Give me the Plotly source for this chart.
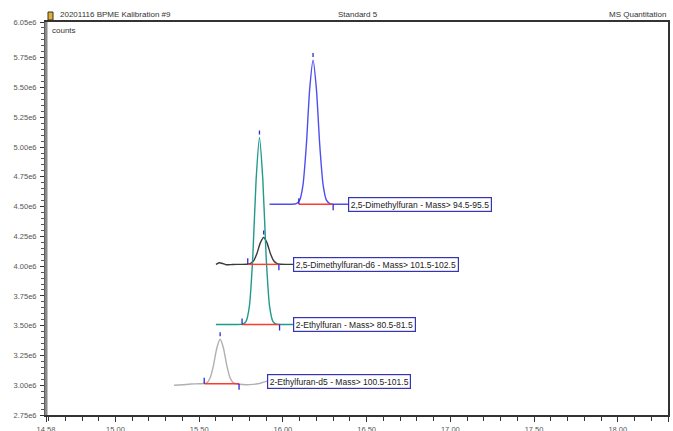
import plotly.graph_objects as go

# Retention time (min) and abundance (counts) for each extracted-ion chromatogram
dmf_time = [15.92, 16.00, 16.05, 16.08, 16.10, 16.12, 16.14, 16.16, 16.18, 16.20, 16.22, 16.24, 16.26, 16.28, 16.30, 16.34, 16.39]
dmf_counts = [4.52e6, 4.52e6, 4.52e6, 4.525e6, 4.554e6, 4.683e6, 5.017e6, 5.488e6, 5.73e6, 5.488e6, 5.017e6, 4.683e6, 4.554e6, 4.525e6, 4.52e6, 4.52e6, 4.52e6]

dmf_d6_time = [15.60, 15.62, 15.64, 15.66, 15.70, 15.75, 15.785, 15.805, 15.825, 15.845, 15.865, 15.885, 15.905, 15.925, 15.945, 15.965, 15.985, 16.02, 16.06]
dmf_d6_counts = [4.015e6, 4.028e6, 4.022e6, 4.012e6, 4.014e6, 4.015e6, 4.016e6, 4.021e6, 4.045e6, 4.107e6, 4.195e6, 4.24e6, 4.195e6, 4.107e6, 4.045e6, 4.021e6, 4.016e6, 4.015e6, 4.015e6]

ef_time = [15.60, 15.66, 15.72, 15.76, 15.78, 15.80, 15.82, 15.84, 15.86, 15.88, 15.90, 15.92, 15.94, 15.96, 16.00, 16.06]
ef_counts = [3.51e6, 3.51e6, 3.51e6, 3.513e6, 3.537e6, 3.667e6, 4.075e6, 4.727e6, 5.08e6, 4.727e6, 4.075e6, 3.667e6, 3.537e6, 3.513e6, 3.51e6, 3.51e6]

ef_d5_time = [15.35, 15.40, 15.45, 15.50, 15.525, 15.545, 15.565, 15.585, 15.605, 15.625, 15.645, 15.665, 15.685, 15.705, 15.74, 15.80, 15.85, 15.905]
ef_d5_counts = [3.0e6, 3.004e6, 3.01e6, 3.012e6, 3.015e6, 3.02e6, 3.061e6, 3.165e6, 3.311e6, 3.386e6, 3.311e6, 3.165e6, 3.061e6, 3.02e6, 3.008e6, 3.005e6, 3.012e6, 3.035e6]

compound_names = [
    "2,5-Dimethylfuran - Mass> 94.5-95.5",
    "2,5-Dimethylfuran-d6 - Mass> 101.5-102.5",
    "2-Ethylfuran - Mass> 80.5-81.5",
    "2-Ethylfuran-d5 - Mass> 100.5-101.5",
]
# Integration windows (start, end) and baseline level per compound
integ_start = [16.095, 15.79, 15.756, 15.53]
integ_end = [16.30, 15.976, 15.98, 15.738]
integ_level = [4.52e6, 4.015e6, 3.51e6, 3.012e6]
apex_time = [16.18, 15.885, 15.86, 15.625]
apex_counts = [5.73e6, 4.24e6, 5.08e6, 3.386e6]

# Axis ticks
x_tick_vals = [14.585, 15.00, 15.50, 16.00, 16.50, 17.00, 17.50, 18.00, 18.30]
x_tick_text = ["14.58", "15.00", "15.50", "16.00", "16.50", "17.00", "17.50", "18.00", "18.30"]
y_tick_vals = [2.75e6, 3.00e6, 3.25e6, 3.50e6, 3.75e6, 4.00e6, 4.25e6, 4.50e6, 4.75e6, 5.00e6, 5.25e6, 5.50e6, 5.75e6, 6.05e6]
y_tick_text = ["2.75e6", "3.00e6", "3.25e6", "3.50e6", "3.75e6", "4.00e6", "4.25e6", "4.50e6", "4.75e6", "5.00e6", "5.25e6", "5.50e6", "5.75e6", "6.05e6"]

series = [
    (dmf_time, dmf_counts, "#4f4ff0"),
    (dmf_d6_time, dmf_d6_counts, "#3a3a3a"),
    (ef_time, ef_counts, "#1f9a8c"),
    (ef_d5_time, ef_d5_counts, "#b0b0b0"),
]

FONT = "Liberation Sans, Arial, sans-serif"
fig = go.Figure()

for (t, c, col), name in zip(series, compound_names):
    fig.add_trace(go.Scatter(x=t, y=c, mode="lines", name=name,
                             line=dict(color=col, width=1.4, shape="spline", smoothing=0.6),
                             hoverinfo="skip", showlegend=False))

shapes = []
annotations = []
for i, name in enumerate(compound_names):
    t = series[i][0]
    # integration baseline
    fig.add_trace(go.Scatter(x=[integ_start[i], integ_end[i]], y=[integ_level[i], integ_level[i]],
                             mode="lines", line=dict(color="#ff3b2f", width=1.4),
                             hoverinfo="skip", showlegend=False))
    # start / end / apex markers
    shapes.append(dict(type="line", xref="x", yref="y", x0=integ_start[i], x1=integ_start[i],
                       ysizemode="pixel", yanchor=integ_level[i], y0=0, y1=6,
                       line=dict(color="#2b2bd0", width=1.3)))
    shapes.append(dict(type="line", xref="x", yref="y", x0=integ_end[i], x1=integ_end[i],
                       ysizemode="pixel", yanchor=integ_level[i], y0=0, y1=-6,
                       line=dict(color="#2b2bd0", width=1.3)))
    shapes.append(dict(type="line", xref="x", yref="y", x0=apex_time[i], x1=apex_time[i],
                       ysizemode="pixel", yanchor=apex_counts[i], y0=3, y1=7,
                       line=dict(color="#2b2bd0", width=1.3)))
    # compound label at the end of the trace
    annotations.append(dict(x=t[-1], y=series[i][1][-1], xref="x", yref="y",
                            text=name, showarrow=False, xanchor="left", yanchor="middle",
                            font=dict(family=FONT, size=8.5, color="#222"),
                            bgcolor="white", bordercolor="#3434b4", borderwidth=1.2, borderpad=1.5))

# left axis band
shapes.append(dict(type="line", xref="paper", yref="paper", x0=0, x1=0, y0=0, y1=1,
                   line=dict(color="#8a8a8a", width=3)))
# small document icon beside the header
shapes.append(dict(type="rect", xref="paper", yref="paper", xsizemode="pixel", ysizemode="pixel",
                   xanchor=0, yanchor=1, x0=2, x1=7, y0=2, y1=10,
                   fillcolor="#e0b030", line=dict(color="#303030", width=1)))

header = [("20201116 BPME Kalibration #9", 0.02, "left"),
          ("Standard 5", 0.502, "center"),
          ("MS Quantitation", 1.0, "right")]
for txt, xp, anchor in header:
    annotations.append(dict(x=xp, y=1, xref="paper", yref="paper", text=txt, showarrow=False,
                            xanchor=anchor, yanchor="bottom", yshift=1,
                            font=dict(family=FONT, size=8, color="#333")))
annotations.append(dict(x=0, y=1, xref="paper", yref="paper", text="counts", showarrow=False,
                        xanchor="left", yanchor="top", xshift=4, yshift=-2,
                        font=dict(family=FONT, size=8, color="#333")))

fig.update_layout(
    width=673, height=431,
    margin=dict(l=46, r=5, t=22, b=16, autoexpand=False),
    paper_bgcolor="white", plot_bgcolor="white",
    shapes=shapes, annotations=annotations,
    xaxis=dict(range=[14.585, 18.30], tickvals=x_tick_vals, ticktext=x_tick_text,
               automargin=False,
               showgrid=False, zeroline=False, showline=True, mirror=True,
               linecolor="#333", linewidth=2, ticks="outside", ticklen=5, tickwidth=1,
               tickcolor="#333", ticklabelstandoff=1,
               minor=dict(dtick=0.1, tick0=14.5, ticks="outside", ticklen=4, tickcolor="#333"),
               tickfont=dict(family=FONT, size=7.5, color="#555")),
    yaxis=dict(range=[2.75e6, 6.05e6], tickvals=y_tick_vals, ticktext=y_tick_text,
               automargin=False,
               showgrid=False, zeroline=False, showline=True, mirror=True,
               linecolor="#333", linewidth=2, ticks="outside", ticklen=4, tickwidth=1,
               tickcolor="#333", ticklabelstandoff=2,
               minor=dict(dtick=0.05e6, tick0=2.75e6, ticks="outside", ticklen=3, tickcolor="#555"),
               tickfont=dict(family=FONT, size=7.5, color="#555")),
)

fig.write_html("out.html")
